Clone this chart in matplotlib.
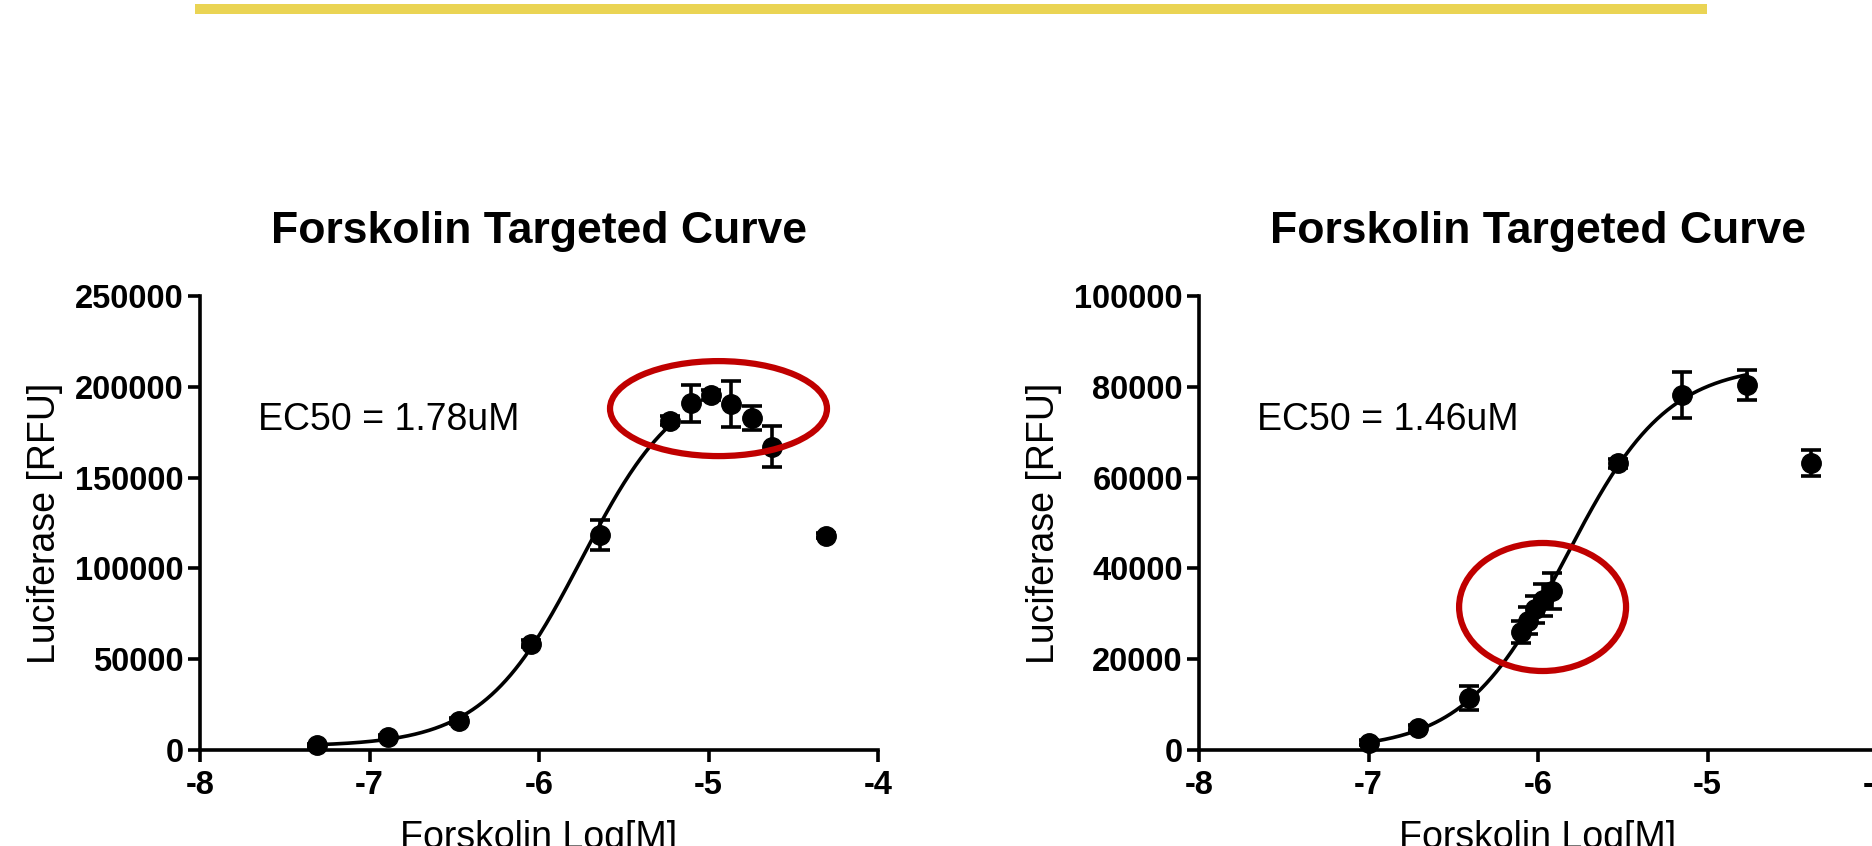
import numpy as np
import matplotlib.pyplot as plt
from matplotlib.patches import Ellipse, Rectangle

plt.rcParams['font.family'] = ['Liberation Sans', 'DejaVu Sans']

# Forskolin dose response, plate 1
left_logc = [-7.31, -6.89, -6.47, -6.05, -5.64, -5.227, -5.105, -4.985, -4.867, -4.742, -4.624, -4.307]
left_rfu = [2500, 7000, 16000, 58500, 118400, 181300, 190900, 195500, 190500, 182600, 167000, 118000]
left_sem = [800, 1000, 1500, 2000, 8000, 2500, 10300, 3000, 12500, 6600, 11200, 1500]
left_ec50 = 1.78e-6
left_fit = (2000, 208000, 1.5)   # bottom, top, hill slope
left_fit_range = (-7.31, -5.227)
left_yticks = [0, 50000, 100000, 150000, 200000, 250000]

# Forskolin dose response, plate 2
right_logc = [-7.0, -6.71, -6.41, -6.10, -6.06, -6.02, -5.97, -5.92, -5.528, -5.15, -4.767, -4.39]
right_rfu = [1600, 4800, 11500, 26000, 28500, 31000, 33000, 35000, 63200, 78200, 80400, 63200]
right_sem = [500, 700, 2700, 2500, 3000, 3000, 3500, 4000, 1000, 5000, 3400, 2900]
right_ec50 = 1.46e-6
right_fit = (0, 85000, 1.45)
right_fit_range = (-7.0, -4.767)
right_yticks = [0, 20000, 40000, 60000, 80000, 100000]

xticks = [-8, -7, -6, -5, -4]


def four_pl(x, bottom, top, log_ec50, hill):
    return bottom + (top - bottom) / (1 + 10 ** ((log_ec50 - x) * hill))


fig = plt.figure(figsize=(18.72, 8.46), dpi=100)

# yellow banner along the top
fig.add_artist(Rectangle((195 / 1872, 1 - 14 / 846), (1707 - 195) / 1872, 10 / 846,
                         transform=fig.transFigure, color='#EAD454', lw=0))

ax1 = fig.add_axes([200 / 1872, 96 / 846, 678 / 1872, 454 / 846])
ax2 = fig.add_axes([1199 / 1872, 96 / 846, 678 / 1872, 454 / 846])

panels = [
    (ax1, left_logc, left_rfu, left_sem, left_ec50, left_fit, left_fit_range, left_yticks, '1.78uM'),
    (ax2, right_logc, right_rfu, right_sem, right_ec50, right_fit, right_fit_range, right_yticks, '1.46uM'),
]

for ax, logc, rfu, sem, ec50, fit, frange, yticks, ec50_txt in panels:
    bottom, top, hill = fit
    xs = np.linspace(frange[0], frange[1], 300)
    ax.plot(xs, four_pl(xs, bottom, top, np.log10(ec50), hill), color='black', lw=2.6, zorder=2)
    ax.errorbar(logc, rfu, yerr=sem, fmt='o', color='black', ms=14,
                capsize=7.5, capthick=2.6, elinewidth=2.6, zorder=3, clip_on=False)

    ymax = yticks[-1]
    ax.set_xlim(-8, -4)
    ax.set_ylim(0, ymax)
    ax.set_xticks(xticks)
    ax.set_yticks(yticks)
    ax.set_xticklabels([str(t) for t in xticks])
    ax.set_yticklabels([str(t) for t in yticks])

    for side in ['top', 'right']:
        ax.spines[side].set_visible(False)
    for side in ['left', 'bottom']:
        ax.spines[side].set_linewidth(2.6)
    ax.tick_params(direction='out', length=8.6, width=2.6, labelsize=23.5)
    ax.tick_params(axis='x', pad=6)
    ax.tick_params(axis='y', pad=3)
    for lab in ax.get_xticklabels() + ax.get_yticklabels():
        lab.set_fontweight('bold')

    ax.set_title('Forskolin Targeted Curve', fontsize=32, fontweight='bold', pad=38)
    ax.set_ylabel('Luciferase [RFU]', fontsize=27)
    ax.set_xlabel('Forskolin Log[M]', fontsize=27)
    ax.yaxis.set_label_coords(-0.202, 0.5)
    ax.xaxis.set_label_coords(0.5, -0.155)

    ax.text(-7.655, 0.727 * ymax, 'EC50 = ' + ec50_txt, fontsize=27, va='center', ha='left')

# red rings around the highlighted points
ax1.add_patch(Ellipse((-4.941, 188000), 1.28, 52300, fill=False, ec='#c00000', lw=4.5, zorder=4))
ax2.add_patch(Ellipse((-5.973, 31500), 0.985, 28200, fill=False, ec='#c00000', lw=4.5, zorder=4))

fig.savefig('out.png', dpi=100)
